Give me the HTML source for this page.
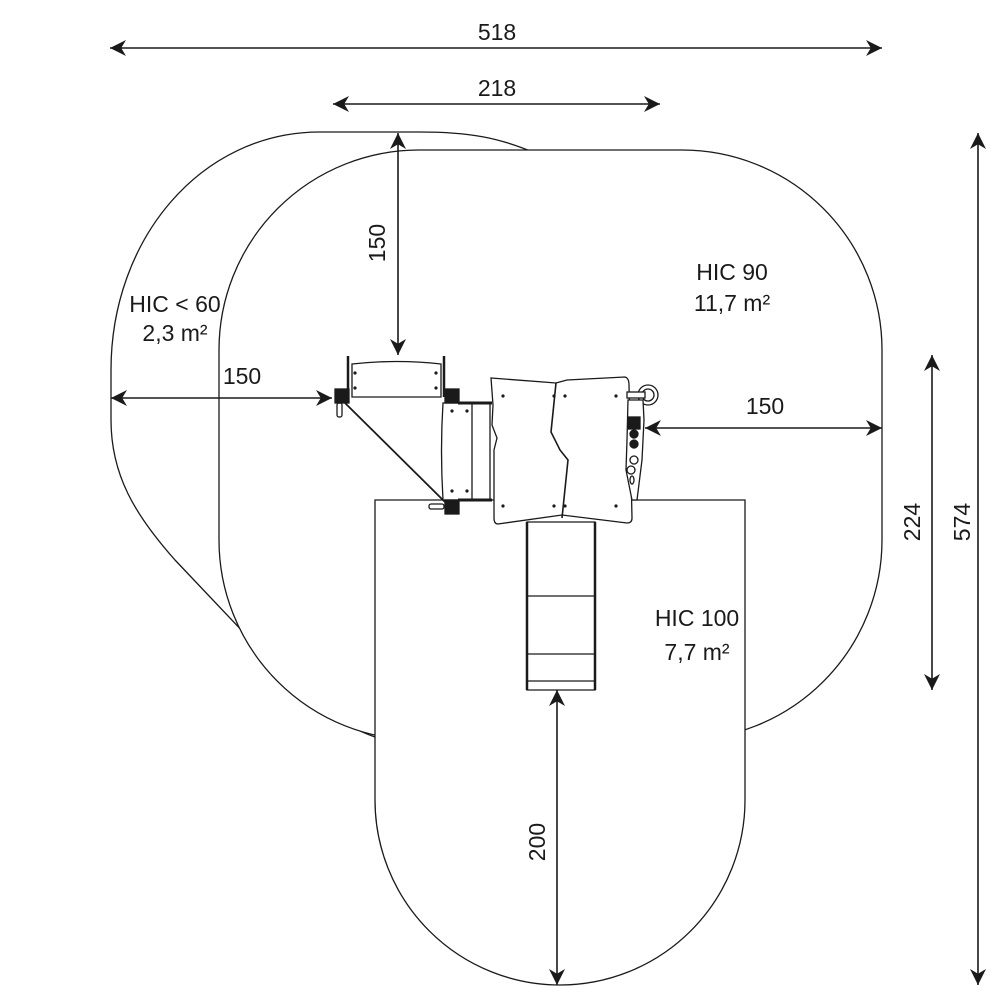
<!DOCTYPE html>
<html><head><style>
html,body{margin:0;padding:0;background:#fff;}
svg{display:block;}
text{font-family:"Liberation Sans",sans-serif;font-size:23px;fill:#1a1a1a;}
</style></head><body>
<svg width="1000" height="1000" viewBox="0 0 1000 1000" xmlns="http://www.w3.org/2000/svg">
<defs>
<marker id="a" viewBox="0 0 10 10" refX="10" refY="5" markerWidth="16" markerHeight="16" markerUnits="userSpaceOnUse" orient="auto-start-reverse">
<path d="M0,0 L10,5 L0,10 L3,5 Z" fill="#1a1a1a"/>
</marker>
</defs>
<g fill="#fff" stroke="#1a1a1a" stroke-width="1.3">
<path d="M535,153 C500,138 470,132 420,132 L320,132 C200,132 111,240 111,370 L111,420 C111,475 135,515 175,560 L265,655 C300,695 340,725 375,737"/>
<rect x="219" y="150" width="663" height="590" rx="200" ry="200"/>
<path d="M375,500 L745,500 L745,800 A185,185 0 0 1 375,800 Z"/>
</g>
<!-- equipment -->
<g fill="#fff" stroke="#1a1a1a" stroke-width="1.3">
<path d="M352,364 Q397,359 441,364 L441,397 L352,397 Z"/>
<line x1="348" y1="356" x2="348" y2="397" stroke-width="2.5"/>
<line x1="444" y1="356" x2="444" y2="397" stroke-width="2.5"/>
<path d="M443,403 L490,403 L490,500 L443,500 Q440,450 443,403 Z"/>
<line x1="472" y1="403" x2="472" y2="500"/>
<line x1="458" y1="403" x2="492" y2="403" stroke-width="3"/>
<line x1="458" y1="500" x2="492" y2="500" stroke-width="3"/>
<path d="M491,378 L556,383 L567,380 L625,377 Q629,378 629,385 L632,518 Q632,523 627,523 L562,515 L498,524 Q494,524 494,518 L494,450 L497,438 L492,425 L493,405 Z"/>
<path d="M556,383 L551,432 L560,450 L568,460 L562,518" fill="none" stroke-width="1.6"/>
<path d="M527,522 L595,522 L595,690 L527,690 Z"/>
<line x1="527" y1="522" x2="527" y2="690" stroke-width="2.5"/>
<line x1="595" y1="522" x2="595" y2="690" stroke-width="2.5"/>
<line x1="527" y1="596" x2="595" y2="596"/>
<line x1="527" y1="654" x2="595" y2="654"/>
<line x1="527" y1="681" x2="595" y2="681"/>
<circle cx="648" cy="395" r="10"/>
<circle cx="648" cy="395" r="6"/>
<rect x="627" y="392" width="18" height="6"/>
<path d="M628,400 L643,400 L644,420 L642,460 L637,500 L632,500 L626,470 L627,440 Z"/>
<rect x="628" y="417" width="12" height="12" fill="#1a1a1a"/>
<circle cx="634" cy="434" r="4" fill="#1a1a1a"/>
<circle cx="634" cy="444" r="4" fill="#1a1a1a"/>
<ellipse cx="634" cy="460" rx="4" ry="4"/>
<ellipse cx="631" cy="470" rx="4" ry="4"/>
<ellipse cx="632" cy="480" rx="2" ry="4"/>
<rect x="337" y="403" width="5" height="14" rx="2"/>
<rect x="429" y="504" width="15" height="5" rx="2"/>
<rect x="335" y="389" width="14" height="14" fill="#1a1a1a"/>
<rect x="445" y="389" width="14" height="14" fill="#1a1a1a"/>
<rect x="445" y="500" width="14" height="14" fill="#1a1a1a"/>
</g>
<path d="M345,403 L446,503" stroke="#1a1a1a" stroke-width="1.8" fill="none"/>
<g fill="#1a1a1a">
<circle cx="355" cy="373" r="1.6"/><circle cx="436" cy="373" r="1.6"/>
<circle cx="355" cy="388" r="1.6"/><circle cx="436" cy="388" r="1.6"/>
<circle cx="452" cy="411" r="1.6"/><circle cx="467" cy="411" r="1.6"/>
<circle cx="452" cy="491" r="1.6"/><circle cx="467" cy="491" r="1.6"/>
<circle cx="503" cy="396" r="1.6"/><circle cx="554" cy="396" r="1.6"/><circle cx="565" cy="396" r="1.6"/><circle cx="616" cy="396" r="1.6"/>
<circle cx="503" cy="506" r="1.6"/><circle cx="554" cy="506" r="1.6"/><circle cx="565" cy="506" r="1.6"/><circle cx="616" cy="506" r="1.6"/>
</g>
<!-- dimensions -->
<g stroke="#1a1a1a" stroke-width="1.6" fill="none">
<line x1="110" y1="48" x2="882" y2="48" marker-start="url(#a)" marker-end="url(#a)"/>
<line x1="333" y1="104" x2="660" y2="104" marker-start="url(#a)" marker-end="url(#a)"/>
<line x1="398" y1="133" x2="398" y2="355" marker-start="url(#a)" marker-end="url(#a)"/>
<line x1="111" y1="398" x2="332" y2="398" marker-start="url(#a)" marker-end="url(#a)"/>
<line x1="645" y1="428" x2="882" y2="428" marker-start="url(#a)" marker-end="url(#a)"/>
<line x1="932" y1="355" x2="932" y2="690" marker-start="url(#a)" marker-end="url(#a)"/>
<line x1="978" y1="133" x2="978" y2="985" marker-start="url(#a)" marker-end="url(#a)"/>
<line x1="557" y1="690" x2="557" y2="985" marker-start="url(#a)" marker-end="url(#a)"/>
</g>
<g text-anchor="middle">
<text x="497" y="40">518</text>
<text x="497" y="96">218</text>
<text transform="translate(385,243) rotate(-90)">150</text>
<text x="175" y="312">HIC &lt; 60</text>
<text x="175" y="341">2,3 m²</text>
<text x="242" y="384">150</text>
<text x="732" y="280">HIC 90</text>
<text x="732" y="311">11,7 m²</text>
<text x="765" y="414">150</text>
<text transform="translate(920,522) rotate(-90)">224</text>
<text transform="translate(970,522) rotate(-90)">574</text>
<text x="697" y="626">HIC 100</text>
<text x="697" y="660">7,7  m²</text>
<text transform="translate(545,842) rotate(-90)">200</text>
</g>
</svg>
</body></html>
